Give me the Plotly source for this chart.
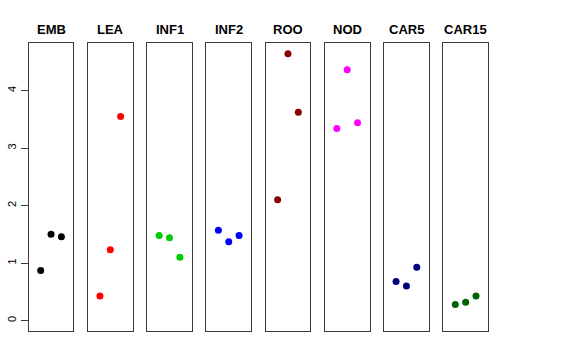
import plotly.graph_objects as go

groups = ["EMB", "LEA", "INF1", "INF2", "ROO", "NOD", "CAR5", "CAR15"]
colors = ["#000000", "#FF0000", "#00CD00", "#0000FF", "#8B0000", "#FF00FF", "#000080", "#006400"]
reps = [1, 2, 3]
values = [
    [0.87, 1.50, 1.46],
    [0.43, 1.23, 3.55],
    [1.48, 1.44, 1.10],
    [1.57, 1.37, 1.48],
    [2.10, 4.64, 3.62],
    [3.34, 4.36, 3.44],
    [0.68, 0.60, 0.93],
    [0.28, 0.32, 0.43],
]
yticks = [0, 1, 2, 3, 4]

W, H = 576, 360
fig = go.Figure()
left0, step, pw = 28.7, 59.23, 44.7
ybot, ytop = 331.0, 43.3

for i, (g, c, v) in enumerate(zip(groups, colors, values)):
    n = "" if i == 0 else str(i + 1)
    xl = left0 + i * step
    xr = xl + pw
    fig.add_trace(go.Scatter(x=reps, y=v, mode="markers",
                             marker=dict(color=c, size=7),
                             xaxis="x" + n, yaxis="y" + n, showlegend=False,
                             hoverinfo="y"))
    xa = dict(domain=[xl / W, xr / W], range=[-0.16, 4.16], showgrid=False,
              zeroline=False, showticklabels=False, ticks="", showline=True,
              linecolor="#3a3a3a", linewidth=1, mirror=True, anchor="y" + n,
              automargin=False)
    ya = dict(domain=[(H - ybot) / H, (H - ytop) / H], range=[-0.18, 4.82],
              showgrid=False, zeroline=False, showline=True, linecolor="#3a3a3a",
              linewidth=1, mirror=True, anchor="x" + n, automargin=False)
    if i == 0:
        ya.update(tickvals=yticks, ticktext=[str(t) for t in yticks], ticks="outside",
                  ticklen=7, tickcolor="#3a3a3a", tickangle=-90,
                  tickfont=dict(family="Liberation Sans, Arial", size=11, color="#000"))
    else:
        ya.update(showticklabels=False, ticks="")
    fig.layout["xaxis" + n] = xa
    fig.layout["yaxis" + n] = ya
    fig.add_annotation(text="<b>%s</b>" % g, x=(xl + xr) / 2 / W, y=(H - 29) / H,
                       xref="paper", yref="paper", showarrow=False,
                       xanchor="center", yanchor="middle",
                       font=dict(family="Liberation Sans, Arial", size=13, color="#000"))

fig.update_layout(width=W, height=H, margin=dict(l=0, r=0, t=0, b=0, autoexpand=False),
                  plot_bgcolor="white", paper_bgcolor="white")
fig.write_html("out.html", config={"displayModeBar": False},
               post_script="document.body.style.margin='0';")
